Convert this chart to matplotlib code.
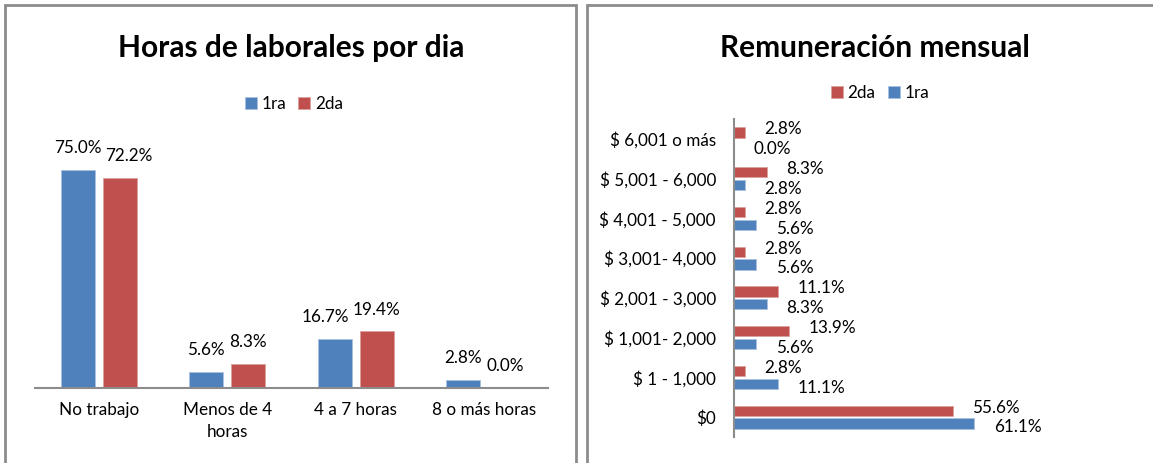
import numpy as np
import matplotlib.pyplot as plt
from matplotlib.patches import Rectangle

plt.rcParams['font.family'] = ['Lato', 'DejaVu Sans']

# left chart: horas laborales
horas_cats = ["No trabajo", "Menos de 4\nhoras", "4 a 7 horas", "8 o más horas"]
horas_1ra = [75.0, 5.6, 16.7, 2.8]
horas_2da = [72.2, 8.3, 19.4, 0.0]

# right chart: remuneracion (bottom to top)
rem_cats = ["$0", "$ 1 - 1,000", "$ 1,001- 2,000", "$ 2,001 - 3,000",
            "$ 3,001- 4,000", "$ 4,001 - 5,000", "$ 5,001 - 6,000", "$ 6,001 o más"]
rem_1ra = [61.1, 11.1, 5.6, 8.3, 5.6, 5.6, 2.8, 0.0]
rem_2da = [55.6, 2.8, 13.9, 11.1, 2.8, 2.8, 8.3, 2.8]

BLUE = "#4F81BD"
RED = "#C0504D"
W, H = 1153, 463
FS = 12.3

fig = plt.figure(figsize=(W / 100, H / 100), dpi=100)

# panel frames
fig.patches.append(Rectangle((5 / W, -0.02), 571 / W, 1 - 5 / H + 0.02,
                             transform=fig.transFigure, fill=False,
                             edgecolor="#8c8c8c", lw=2))
fig.patches.append(Rectangle((587 / W, -0.02), 600 / W, 1 - 5 / H + 0.02,
                             transform=fig.transFigure, fill=False,
                             edgecolor="#8c8c8c", lw=2))

# ---- left chart ----
ax1 = fig.add_axes([35 / W, 1 - 388 / H, 513 / W, 233 / H])
x = np.arange(len(horas_cats))
bw = 0.265
off = 0.164
b1 = ax1.bar(x - off, horas_1ra, bw, color=BLUE, edgecolor="#a9c0de", lw=0.6, label="1ra")
b2 = ax1.bar(x + off, horas_2da, bw, color=RED, edgecolor="#dba09e", lw=0.6, label="2da")
ax1.set_xlim(-0.5, 3.5)
ax1.set_ylim(0, 80)
# small sideways nudges (points) where excel moved labels apart
nudge_1ra = [0, 0, -7, 0]
nudge_2da = [6, 0, 0, 0]
for xi, v, n in zip(x, horas_1ra, nudge_1ra):
    ax1.annotate(f"{v:.1f}%", (xi - off, v), xytext=(n, 10), textcoords="offset points",
                 ha="center", va="bottom", fontsize=FS)
for xi, v, n in zip(x, horas_2da, nudge_2da):
    ax1.annotate(f"{v:.1f}%", (xi + off, v), xytext=(n, 10), textcoords="offset points",
                 ha="center", va="bottom", fontsize=FS)
ax1.set_xticks(x)
ax1.set_xticklabels(horas_cats, fontsize=FS, linespacing=1.45)
ax1.tick_params(axis="x", length=0, pad=10)
ax1.set_yticks([])
for s in ["top", "right", "left"]:
    ax1.spines[s].set_visible(False)
ax1.spines["bottom"].set_color("#8c8c8c")
ax1.spines["bottom"].set_linewidth(1.5)
fig.text(291 / W, 1 - 48 / H, "Horas de laborales por dia", ha="center", va="center",
         fontsize=21.5, fontweight="bold")
fig.legend(handles=[b1, b2], loc="center", bbox_to_anchor=(294 / W, 1 - 104 / H),
           ncol=2, frameon=False, fontsize=FS, handlelength=0.7, handleheight=0.7,
           columnspacing=0.7, handletextpad=0.3)

# ---- right chart ----
ax2 = fig.add_axes([734 / W, 1 - 437 / H, 393 / W, 318 / H])
y = np.arange(len(rem_cats))
bh = 0.26
yo = 0.16
r1 = ax2.barh(y - yo, rem_1ra, bh, color=BLUE, edgecolor="#a9c0de", lw=0.6, label="1ra")
r2 = ax2.barh(y + yo, rem_2da, bh, color=RED, edgecolor="#dba09e", lw=0.6, label="2da")
ax2.set_xlim(0, 100)
ax2.set_ylim(-0.5, 7.5)
for yi, v in zip(y, rem_2da):
    ax2.text(v + 5, yi + yo + 0.08, f"{v:.1f}%", ha="left", va="center", fontsize=FS)
for yi, v in zip(y, rem_1ra):
    ax2.text(v + 5, yi - yo - 0.1, f"{v:.1f}%", ha="left", va="center", fontsize=FS)
ax2.set_yticks(y)
ax2.set_yticklabels(rem_cats, fontsize=FS)
ax2.tick_params(axis="y", length=0, pad=13)
ax2.set_xticks([])
for s in ["top", "right", "bottom"]:
    ax2.spines[s].set_visible(False)
ax2.spines["left"].set_color("#8c8c8c")
ax2.spines["left"].set_linewidth(1.5)
fig.text(875 / W, 1 - 48 / H, "Remuneración mensual", ha="center", va="center",
         fontsize=21.5, fontweight="bold")
fig.legend(handles=[r2, r1], loc="center", bbox_to_anchor=(880 / W, 1 - 93 / H),
           ncol=2, frameon=False, fontsize=FS, handlelength=0.7, handleheight=0.7,
           columnspacing=0.7, handletextpad=0.3)

fig.savefig("out.png", dpi=100, facecolor="white")
